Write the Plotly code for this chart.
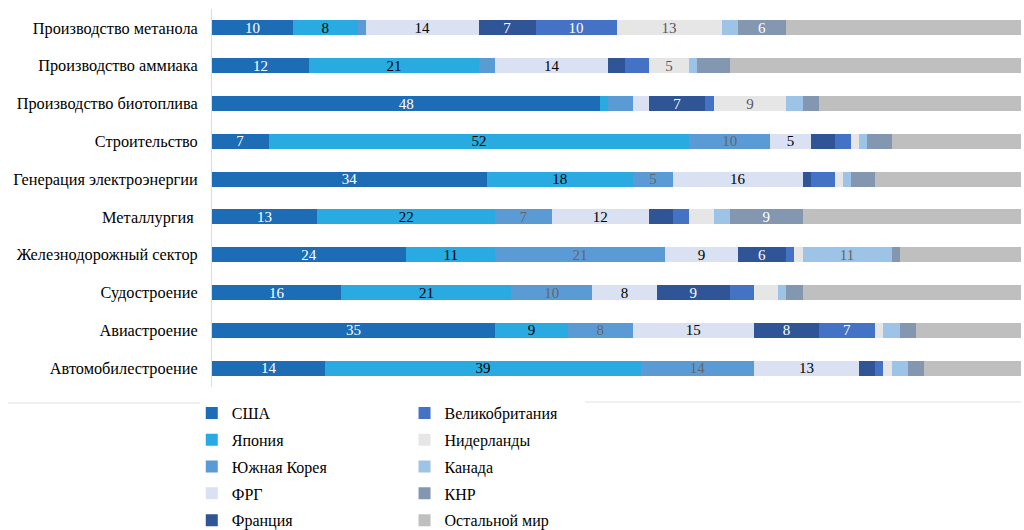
import plotly.graph_objects as go

categories = [
    "Производство метанола",
    "Производство аммиака",
    "Производство биотоплива",
    "Строительство",
    "Генерация электроэнергии",
    "Металлургия ",
    "Железнодорожный сектор",
    "Судостроение",
    "Авиастроение",
    "Автомобилестроение",
]

series_names = ["США", "Япония", "Южная Корея", "ФРГ", "Франция",
                "Великобритания", "Нидерланды", "Канада", "КНР", "Остальной мир"]

usa = [10, 12, 48, 7, 34, 13, 24, 16, 35, 14]
japan = [8, 21, 1, 52, 18, 22, 11, 21, 9, 39]
korea = [1, 2, 3, 10, 5, 7, 21, 10, 8, 14]
frg = [14, 14, 2, 5, 16, 12, 9, 8, 15, 13]
france = [7, 2, 7, 3, 1, 3, 6, 9, 8, 2]
uk = [10, 3, 1, 2, 3, 2, 1, 3, 7, 1]
netherlands = [13, 5, 9, 1, 1, 3, 1, 3, 1, 1]
canada = [2, 1, 2, 1, 1, 2, 11, 1, 2, 2]
china = [6, 4, 2, 3, 3, 9, 1, 2, 2, 2]
rest = [29, 36, 25, 16, 18, 27, 15, 27, 13, 12]

series_values = [usa, japan, korea, frg, france, uk, netherlands, canada, china, rest]

colors = ["#1c6db5", "#29abe2", "#5b9bd5", "#d9e1f2", "#2f5597",
          "#4472c4", "#e7e6e6", "#9dc3e6", "#8497b0", "#bfbfbf"]
text_colors = ["white", "black", "#666666", "black", "white",
               "white", "#595959", "#666666", "white", "black"]
show_labels = [True, True, True, True, True, True, True, True, True, False]

FONT = "Liberation Serif"

fig = go.Figure()
for i, (name, vals) in enumerate(zip(series_names, series_values)):
    labels = [str(v) if (show_labels[i] and v >= 5) else "" for v in vals]
    fig.add_trace(go.Bar(
        y=categories, x=vals, name=name, orientation="h",
        marker=dict(color=colors[i], line=dict(width=0)),
        text=labels, textposition="inside", insidetextanchor="middle",
        textangle=0, constraintext="none",
        textfont=dict(family=FONT, size=15, color=text_colors[i]),
        legendgroup=name,
        legend="legend" if i < 5 else "legend2",
        hoverinfo="x+y+name",
    ))

fig.update_layout(
    template="none",
    barmode="stack",
    bargap=0.6,
    width=1024, height=530,
    margin=dict(l=212, r=3, t=9, b=143, autoexpand=False),
    paper_bgcolor="white", plot_bgcolor="white",
    font=dict(family=FONT, size=15, color="black"),
    xaxis=dict(range=[0, 100], visible=False, fixedrange=True),
    yaxis=dict(categoryorder="array", categoryarray=categories,
               autorange="reversed", showline=True, linecolor="#dcdcdc",
               linewidth=1, ticks="", showgrid=False,
               tickfont=dict(family=FONT, size=16.3, color="black"),
               ticklabelstandoff=10),
    legend=dict(x=-0.025, y=-0.024, xanchor="left", yanchor="top",
                orientation="v", traceorder="grouped", tracegroupgap=3,
                font=dict(family=FONT, size=16, color="black"),
                bgcolor="rgba(0,0,0,0)"),
    legend2=dict(x=0.238, y=-0.024, xanchor="left", yanchor="top",
                 orientation="v", traceorder="grouped", tracegroupgap=3,
                 font=dict(family=FONT, size=16, color="black"),
                 bgcolor="rgba(0,0,0,0)"),
    shapes=[
        dict(type="line", xref="paper", yref="paper",
             x0=-0.252, x1=-0.015, y0=-0.042, y1=-0.042,
             line=dict(color="#ebebeb", width=1.5)),
        dict(type="line", xref="paper", yref="paper",
             x0=0.461, x1=1.0, y0=-0.040, y1=-0.040,
             line=dict(color="#ebebeb", width=1.5)),
    ],
)

fig.write_html("out.html")
